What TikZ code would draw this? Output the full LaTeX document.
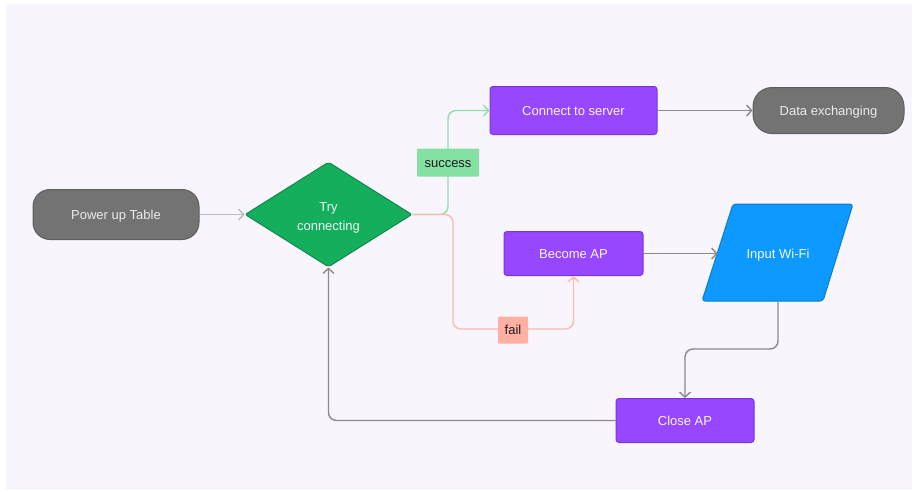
\documentclass[tikz,border=0pt]{standalone}
\usepackage{fontspec}
\setmainfont{Liberation Sans}
\usetikzlibrary{arrows.meta,shapes.geometric}

\definecolor{pagebg}{HTML}{F8F6FC}
\definecolor{termfill}{HTML}{737373}
\definecolor{termline}{HTML}{5E5E5E}
\definecolor{procfill}{HTML}{9747FF}
\definecolor{procline}{HTML}{7C35D9}
\definecolor{decfill}{HTML}{14AE5C}
\definecolor{decline}{HTML}{0E8C49}
\definecolor{iofill}{HTML}{0D99FF}
\definecolor{ioline}{HTML}{0A7DD4}
\definecolor{okline}{HTML}{8EE0AB}
\definecolor{oklabel}{HTML}{85E0A3}
\definecolor{failline}{HTML}{FFBAAD}
\definecolor{faillabel}{HTML}{FFB0A3}
\definecolor{wire}{HTML}{8A8A8A}
\definecolor{lightwire}{HTML}{BDBDBD}
\definecolor{labeltext}{HTML}{1E1E1E}

\tikzset{
  basefont/.style={font=\fontsize{13}{19}\selectfont, text height=9.4pt, text depth=0pt},
  terminal/.style={basefont, draw=termline, fill=termfill, line width=1pt,
    rounded corners=17pt, text=white!92!black, inner sep=0pt},
  process/.style={basefont, draw=procline, fill=procfill, line width=1pt,
    rounded corners=3pt, text=white!95!procfill, inner sep=0pt},
  decision/.style={diamond, draw=decline, fill=decfill, line width=1pt,
    rounded corners=2pt, inner sep=0pt},
  edgelabel/.style={basefont, text=labeltext, inner sep=0pt, rounded corners=1pt},
  flow/.style={line width=1.4pt, rounded corners=8pt,
    -{Straight Barb[length=5pt,width=11pt]}},
}

\begin{document}
\begin{tikzpicture}[x=1pt,y=-1pt]
\useasboundingbox (0,0) rectangle (915,491);
\fill[white] (0,0) rectangle (915,491);
\fill[pagebg] (6,4) rectangle (912,490);

% nodes
\node[terminal, minimum width=166, minimum height=50] (power) at (116,214.5) {Power up Table};
\node[decision, minimum width=167, minimum height=105, aspect=1.6] (try) at (328.5,214.5) {};
\node[font=\fontsize{13}{19}\selectfont, align=center, text=white!92!decfill, inner sep=0pt]
  (trytext) at (328.5,218) {Try\\connecting};
\node[process, minimum width=167, minimum height=48] (server) at (573.5,110.5) {Connect to server};
\node[terminal, minimum width=151, minimum height=46, rounded corners=19pt] (data) at (828.5,110.5) {Data exchanging};
\node[process, minimum width=139, minimum height=44] (ap) at (573.5,253.5) {Become AP};
\node[process, minimum width=138, minimum height=44] (close) at (685,420.5) {Close AP};

% input parallelogram
\draw[ioline, fill=iofill, line width=1pt, rounded corners=3pt]
  (733,204) -- (853,204) -- (823,301) -- (702,301) -- cycle;
\node[basefont, text=white!95!iofill, inner sep=0pt] (wifi) at (778,254) {Input Wi-Fi};
\coordinate (wifiW) at (717.5,253.5);
\coordinate (wifiS) at (778,301);

% connectors
\draw[flow, lightwire] (power.east) -- (try.west);
\draw[flow, okline] (try.east) -- (448,214.5) -- (448,110.5) -- (server.west);
\draw[flow, failline] (try.east) -- (453,214.5) -- (453,329) -- (573.5,329) -- (ap.south);
\draw[flow, wire] (server.east) -- (data.west);
\draw[flow, wire] (ap.east) -- (wifiW);
\draw[flow, wire] (wifiS) -- (778,349) -- (685,349) -- (close.north);
\draw[flow, wire] (close.west) -- (328.5,420.5) -- (try.south);

% edge labels
\node[edgelabel, fill=oklabel, minimum width=62, minimum height=28] (okl) at (448,162.5) {success};
\node[edgelabel, fill=faillabel, minimum width=30, minimum height=27] (faill) at (513,330) {fail};
\end{tikzpicture}
\end{document}
